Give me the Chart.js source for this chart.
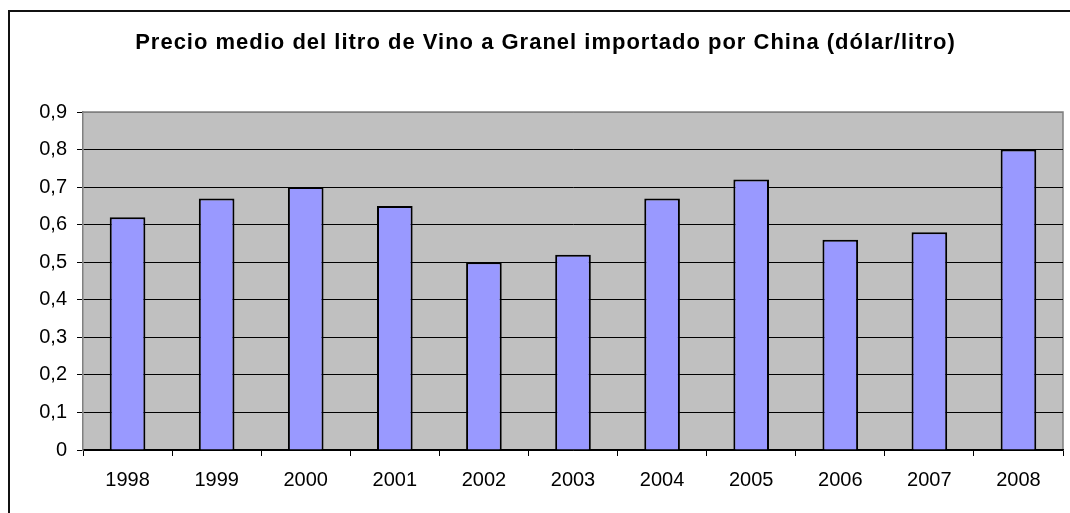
<!DOCTYPE html>
<html>
<head>
<meta charset="utf-8">
<script src="https://cdn.jsdelivr.net/npm/chart.js@4/dist/chart.umd.min.js"></script>
<style>
  html, body { margin: 0; padding: 0; background: #fff; }
</style>
</head>
<body>
<canvas id="chart" width="1070" height="513"></canvas>
<script>
const years = ['1998', '1999', '2000', '2001', '2002', '2003', '2004', '2005', '2006', '2007', '2008'];
const prices = [0.62, 0.67, 0.70, 0.65, 0.50, 0.52, 0.67, 0.72, 0.56, 0.58, 0.80];
const titleText = 'Precio medio del litro de Vino a Granel importado por China (dólar/litro)';

const FONT = "'Liberation Sans', Arial, sans-serif";

// grey plot area, outer frame lines
const frame = {
    id: 'frame',
    beforeDraw(chart) {
        const { ctx, chartArea: a } = chart;
        ctx.save();
        ctx.fillStyle = '#fff';
        ctx.fillRect(0, 0, chart.width, chart.height);
        ctx.fillStyle = '#C0C0C0';
        ctx.fillRect(a.left, a.top, a.right - a.left, a.bottom - a.top);
        ctx.strokeStyle = '#808080';
        ctx.lineWidth = 1.5;
        ctx.beginPath();
        ctx.moveTo(a.left, a.top);
        ctx.lineTo(a.right, a.top);
        ctx.lineTo(a.right, a.bottom);
        ctx.stroke();
        // outer chart border (cut off on right and bottom)
        ctx.strokeStyle = '#111';
        ctx.lineWidth = 2;
        ctx.beginPath();
        ctx.moveTo(9, chart.height);
        ctx.lineTo(9, 11);
        ctx.lineTo(chart.width, 11);
        ctx.stroke();
        ctx.restore();
    },
    afterLayout(chart) {
        // title in the original is spread out a bit and sits right of centre
        const tb = chart.titleBlock;
        if (tb && !tb._spaced) {
            const draw = tb.draw.bind(tb);
            tb.draw = function () {
                chart.ctx.save();
                chart.ctx.letterSpacing = '1px';
                chart.ctx.translate(14, 0);
                draw();
                chart.ctx.restore();
            };
            tb._spaced = true;
        }
    }
};

new Chart(document.getElementById('chart'), {
    type: 'bar',
    data: {
        labels: years,
        datasets: [{
            label: 'Precio',
            data: prices,
            backgroundColor: '#9999FF',
            borderColor: '#000',
            borderWidth: 2,
            categoryPercentage: 1,
            barPercentage: 0.4
        }]
    },
    options: {
        responsive: false,
        animation: false,
        devicePixelRatio: 1,
        layout: { padding: { left: 0, right: 7, top: 0, bottom: 0 } },
        plugins: {
            legend: { display: false },
            tooltip: { enabled: false },
            title: {
                display: true,
                text: titleText,
                color: '#000',
                font: { family: FONT, size: 22, weight: 'bold', lineHeight: 1.2 },
                padding: { top: 30, bottom: 55.6 }
            }
        },
        scales: {
            x: {
                grid: {
                    offset: true,
                    drawOnChartArea: false,
                    color: '#000',
                    tickLength: 6
                },
                border: { color: '#000', width: 1.5 },
                ticks: {
                    color: '#000',
                    font: { family: FONT, size: 20 },
                    padding: 12,
                    maxRotation: 0
                },
                afterFit(scale) { scale.height = 63; }
            },
            y: {
                min: 0,
                max: 0.9,
                grid: {
                    color: ctx => (ctx.tick && ctx.tick.value >= 0.9 ? '#808080' : '#000'),
                    tickColor: '#000',
                    tickLength: 6
                },
                border: { color: '#808080', width: 1.5 },
                ticks: {
                    stepSize: 0.1,
                    color: '#000',
                    font: { family: FONT, size: 20 },
                    padding: 10,
                    callback: v => (v === 0 ? '0' : v.toFixed(1).replace('.', ','))
                },
                afterFit(scale) { scale.width = 83; }
            }
        }
    },
    plugins: [frame]
});
</script>
</body>
</html>
